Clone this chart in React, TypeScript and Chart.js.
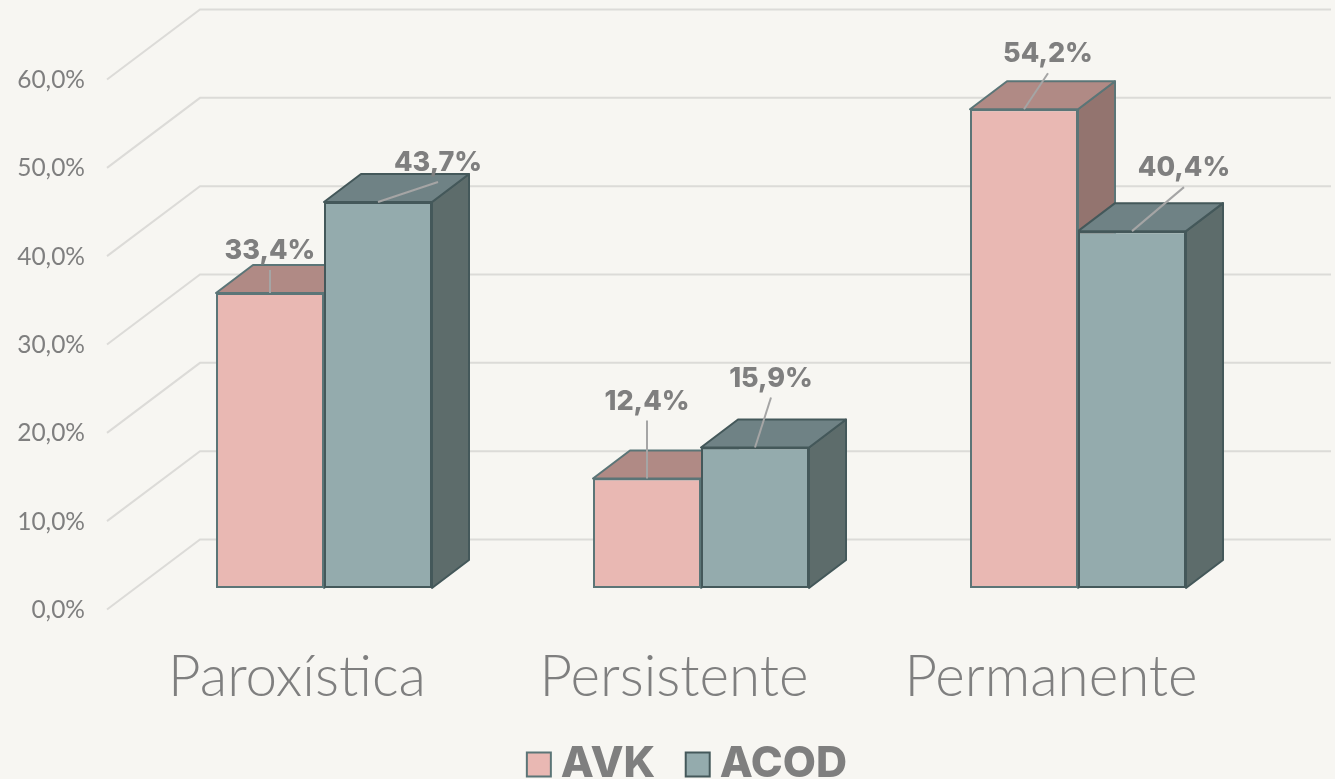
import React, { useEffect, useRef } from "react";
import { Chart, registerables } from "chart.js";

Chart.register(...registerables);

const categories = ["Paroxística", "Persistente", "Permanente"];
const avkValues = [33.4, 12.4, 54.2];
const acodValues = [43.7, 15.9, 40.4];
const yTicks = [0, 10, 20, 30, 40, 50, 60];
const avkLabelShift = [[0, -42], [0, -77], [24, -55]];
const acodLabelShift = [[60, -39], [16, -69], [52, -63]];

const BG = "#f7f6f2";
const TEXT = "#7f7f7f";
const GRID = "#dcdbd8";
const DEPTH_X = 37;
const DEPTH_Y = -28;
const faces = [
  { top: "#b08a85", side: "#93746f", shifts: avkLabelShift },
  { top: "#6f8285", side: "#5d6c6b", shifts: acodLabelShift },
];
const fmt = (v: number) => v.toFixed(1).replace(".", ",") + "%";

const poly = (ctx: CanvasRenderingContext2D, pts: number[][], fill: string, stroke: string) => {
  ctx.beginPath();
  pts.forEach((p, i) => (i ? ctx.lineTo(p[0], p[1]) : ctx.moveTo(p[0], p[1])));
  ctx.closePath();
  ctx.fillStyle = fill;
  ctx.fill();
  ctx.lineWidth = 2;
  ctx.lineJoin = "round";
  ctx.strokeStyle = stroke;
  ctx.stroke();
};

const plugin3d = {
  id: "plugin3d",
  afterLayout(chart: any) {
    chart.scales.y.left = 0;
    chart.legend.left += 67;
  },
  beforeDraw(chart: any) {
    const { ctx, width, height } = chart;
    ctx.save();
    ctx.fillStyle = BG;
    ctx.fillRect(0, 0, width, height);
    ctx.restore();
  },
  beforeDatasetsDraw(chart: any) {
    const { ctx, chartArea, scales } = chart;
    const frontX = chartArea.left - 28.5;
    const backX = chartArea.left + 64.5;
    const endX = chartArea.right + 64.5;
    ctx.save();
    ctx.strokeStyle = GRID;
    ctx.lineWidth = 2;
    yTicks.forEach((t) => {
      const y = scales.y.getPixelForValue(t);
      ctx.beginPath();
      ctx.moveTo(frontX, y + 21.5);
      ctx.lineTo(backX, y - 48.5);
      ctx.lineTo(endX, y - 48.5);
      ctx.stroke();
    });
    chart.data.datasets.forEach((ds: any, di: number) => {
      const face = faces[di];
      chart.getDatasetMeta(di).data.forEach((bar: any) => {
        const { x, y, base, width } = bar.getProps(["x", "y", "base", "width"], true);
        const l = x - width / 2;
        const r = x + width / 2;
        poly(ctx, [[r, y], [r + DEPTH_X, y + DEPTH_Y], [r + DEPTH_X, base + DEPTH_Y], [r, base]], face.side, ds.borderColor);
        poly(ctx, [[l, y], [l + DEPTH_X, y + DEPTH_Y], [r + DEPTH_X, y + DEPTH_Y], [r, y]], face.top, ds.borderColor);
      });
    });
    ctx.restore();
  },
  afterDatasetsDraw(chart: any) {
    const { ctx } = chart;
    ctx.save();
    // the second series sits in front of the first one: its left edge stays on top
    const front = chart.data.datasets[1];
    chart.getDatasetMeta(1).data.forEach((bar: any) => {
      const { x, y, base, width } = bar.getProps(["x", "y", "base", "width"], true);
      ctx.beginPath();
      ctx.moveTo(x - width / 2 + 1, y);
      ctx.lineTo(x - width / 2 + 1, base);
      ctx.strokeStyle = front.borderColor;
      ctx.lineWidth = 2;
      ctx.stroke();
    });
    chart.data.datasets.forEach((ds: any, di: number) => {
      chart.getDatasetMeta(di).data.forEach((bar: any, i: number) => {
        const { x, y } = bar.getProps(["x", "y"], true);
        const [dx, dy] = faces[di].shifts[i];
        ctx.beginPath();
        ctx.moveTo(x, y);
        ctx.lineTo(x + dx, y + dy + 19);
        ctx.strokeStyle = "#a5a5a5";
        ctx.lineWidth = 2;
        ctx.stroke();
        ctx.fillStyle = TEXT;
        ctx.font = "800 27px Inter";
        ctx.textAlign = "center";
        ctx.textBaseline = "middle";
        ctx.fillText(fmt(ds.data[i]), x + dx, y + dy);
      });
    });
    ctx.restore();
  },
};

export default function App() {
  const ref = useRef<HTMLCanvasElement>(null);
  useEffect(() => {
    const chart = new Chart(ref.current as HTMLCanvasElement, {
      type: "bar",
      data: {
        labels: categories,
        datasets: [
          { label: "AVK", data: avkValues, backgroundColor: "#e9b8b3", borderColor: "#5b7577", borderWidth: 2, borderSkipped: false, clip: false },
          { label: "ACOD", data: acodValues, backgroundColor: "#94abad", borderColor: "#44585a", borderWidth: 2, borderSkipped: false, clip: false },
        ],
      } as any,
      options: {
        responsive: false,
        animation: false,
        layout: { padding: { left: 52, right: 68.5, top: 58, bottom: -17 } },
        datasets: { bar: { categoryPercentage: 216 / 377, barPercentage: 1 } },
        scales: {
          x: {
            grid: { display: false, drawTicks: false },
            border: { display: false },
            afterFit: (s: any) => { s.height = 113; },
            ticks: {
              color: TEXT,
              font: { family: "Lato", size: 56.5, weight: 300 },
              padding: 56,
              labelOffset: -27,
              maxRotation: 0,
              autoSkip: false,
            },
          },
          y: {
            min: 0,
            max: 60,
            grid: { display: false, drawTicks: false },
            border: { display: false },
            afterFit: (s: any) => {
              s.width = 83.5;
              s.paddingTop = 0;
              s.paddingBottom = 0;
            },
            afterBuildTicks: (s: any) => { s.ticks = yTicks.map((value) => ({ value })); },
            ticks: {
              color: TEXT,
              font: { family: "Lato", size: 24.5, weight: 400 },
              padding: 50.5,
              labelOffset: 22,
              callback: (v: any) => fmt(Number(v)),
            },
          },
        },
        plugins: {
          tooltip: { enabled: false },
          title: { display: false },
          legend: {
            display: true,
            position: "bottom",
            labels: {
              usePointStyle: true,
              pointStyle: "rect",
              boxWidth: 1,
              boxHeight: 24,
              padding: 42,
              color: TEXT,
              font: { family: "Inter", size: 43, weight: 800 },
            },
          },
        },
      } as any,
      plugins: [plugin3d],
    });
    return () => chart.destroy();
  }, []);
  return (
    <div style={{ position: "absolute", left: 0, top: 0, width: 1335, height: 779, background: BG }}>
      <canvas ref={ref} width={1335} height={779} style={{ display: "block" }} />
    </div>
  );
}
